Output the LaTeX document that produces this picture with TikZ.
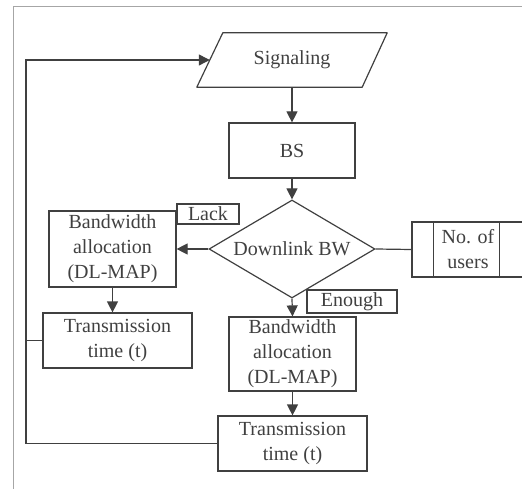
\documentclass[tikz,border=0pt]{standalone}
\usepackage{fontspec}
\setmainfont{Liberation Serif}
\usetikzlibrary{arrows.meta,shapes.geometric,calc}
\tikzset{
  box/.style={draw=black!75, line width=1.2pt, rectangle, inner sep=0pt, align=center,
    font=\fontsize{20}{25}\selectfont, text=black!75},
  plain/.style={draw=none, rectangle, inner sep=0pt, align=center,
    font=\fontsize{20}{25}\selectfont, text=black!75},
  conn/.style={draw=black!75, line width=1.2pt},
  arr/.style={conn, -{Triangle[length=11pt,width=11pt]}},
}
\begin{document}
\begin{tikzpicture}[x=1pt,y=-1pt]
\useasboundingbox (0,0) rectangle (522,489);
% frame
\draw[gray!70, line width=1pt] (13,489) -- (13,7) -- (523,7);
% nodes
\node[plain, minimum width=164pt, minimum height=54pt] (sig) at (292,60) {Signaling};
\draw[conn, line join=round] ([xshift=13pt]sig.north west) -- ([xshift=13pt]sig.north east)
  -- ([xshift=-12pt]sig.south east) -- ([xshift=-13pt]sig.south west) -- cycle;
\node[box, minimum width=126pt, minimum height=55pt] (bs) at (292,150.5) {BS};
\node[box, shape=diamond, aspect=1.7, minimum width=166pt, minimum height=98pt] (dia) at (292,249) {Downlink BW};
\node[box, minimum width=127pt, minimum height=76pt] (ba1) at (112.5,249) {Bandwidth\\allocation\\(DL-MAP)};
\node[box, minimum width=62pt, minimum height=20pt] (lack) at (208,214) {Lack};
\node[box, minimum width=112pt, minimum height=55pt] (users) at (468,249.5) {No. of\\users};
\draw[conn] ([xshift=22pt]users.north west) -- ([xshift=22pt]users.south west);
\draw[conn] ([xshift=88pt]users.north west) -- ([xshift=88pt]users.south west);
\node[box, minimum width=90pt, minimum height=23pt] (enough) at (352,301.5) {Enough};
\node[box, minimum width=127pt, minimum height=74pt] (ba2) at (292.5,354) {Bandwidth\\allocation\\(DL-MAP)};
\node[box, minimum width=149pt, minimum height=55pt] (tr1) at (117.5,340.5) {Transmission\\time (t)};
\node[box, minimum width=149pt, minimum height=55pt] (tr2) at (292.5,443.5) {Transmission\\time (t)};
\coordinate (top) at (26,60);
\coordinate (bot) at (26,443.5);
% connectors
\draw[arr] (sig.south -| bs.north) -- (bs.north);
\draw[arr] (bs.south) -- (dia.north);
\draw[arr] (dia.west) -- (ba1.east);
\draw[conn] (dia.east) -- (users.west);
\draw[arr] (dia.south) -- (ba2.north);
\draw[arr] (ba1.south) -- (ba1.south |- tr1.north);
\draw[arr] (ba2.south) -- (ba2.south |- tr2.north);
\draw[arr] (tr2.west) -- (bot) -- (top) -- (sig.west);
\draw[conn] (tr1.west) -- (tr1.west -| top);
\end{tikzpicture}
\end{document}
